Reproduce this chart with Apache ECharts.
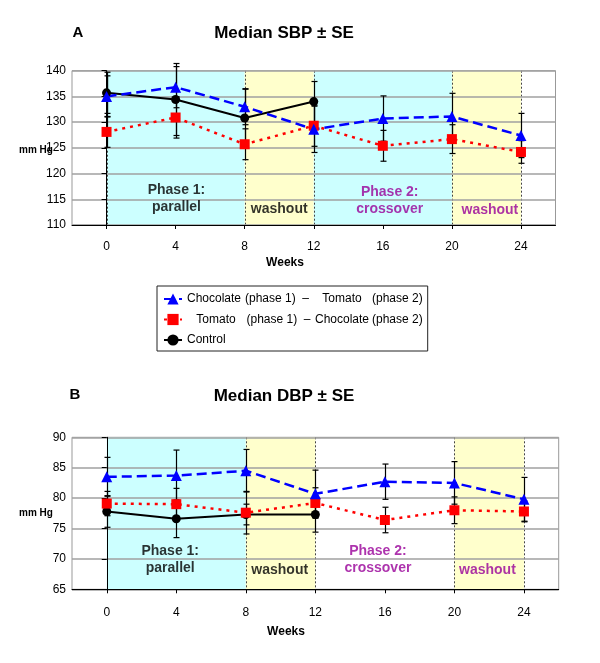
<!DOCTYPE html>
<html><head><meta charset="utf-8">
<script src="https://cdn.jsdelivr.net/npm/echarts@6/dist/echarts.min.js"></script>
<style>html,body{margin:0;padding:0;background:#fff}#c{width:600px;height:663px}</style>
</head><body><div id="c"></div>
<script>
// ---------- data ----------
const weeks = [0, 4, 8, 12, 16, 20, 24];
const controlWeeks = [0, 4, 8, 12];
const weekTicks = [0, 4, 8, 12, 16, 20, 24];
const nameChocTom = 'Chocolate (phase 1) – Tomato (phase 2)';
const nameTomChoc = 'Tomato (phase 1) – Chocolate (phase 2)';
const nameControl = 'Control';

// Panel A: SBP
const sbpChocTom   = [135.0, 136.8, 133.0, 128.6, 130.7, 131.1, 127.4];
const sbpChocTomSE = [4.0, 4.0, 3.5, 4.5, 4.4, 4.5, 4.3];
const sbpTomChoc   = [128.1, 130.9, 125.7, 129.3, 125.4, 126.7, 124.2];
const sbpTomChocSE = [3.0, 4.0, 3.0, 4.0, 3.0, 2.8, 2.2];
const sbpControl   = [135.7, 134.4, 130.8, 134.0];
const sbpControlSE = [4.0, 7.0, 5.6, 3.9];
const sbpTicks = [110, 115, 120, 125, 130, 135, 140];

// Panel B: DBP
const dbpChocTom   = [83.5, 83.7, 84.5, 80.7, 82.7, 82.5, 79.8];
const dbpChocTomSE = [3.2, 4.2, 3.5, 3.9, 2.9, 3.5, 3.6];
const dbpTomChoc   = [79.1, 79.0, 77.6, 79.2, 76.4, 78.0, 77.8];
const dbpTomChocSE = [2.0, 2.6, 3.5, 2.5, 2.1, 2.2, 1.7];
const dbpControl   = [77.8, 76.6, 77.3, 77.3];
const dbpControlSE = [2.6, 3.1, 1.7, 2.9];
const dbpTicks = [65, 70, 75, 80, 85, 90];

// study phases (week ranges) and boundaries
const sbpBands = [[0, 8, 'phase'], [8, 12, 'washout'], [12, 20, 'phase'], [20, 24, 'washout']];
const dbpBands = [[0, 8, 'phase'], [8, 12, 'washout'], [20, 24, 'washout']];
const boundaries = [0, 8, 12, 20, 24];

// phase annotations [text, week, value, group]
const sbpNotes = [['Phase 1:\nparallel', 4.05, 115.1, 1], ['washout', 10.0, 113.1, 1], ['Phase 2:\ncrossover', 16.4, 114.8, 2], ['washout', 22.2, 112.8, 2]];
const dbpNotes = [['Phase 1:\nparallel', 3.65, 69.9, 1], ['washout', 9.95, 68.2, 1], ['Phase 2:\ncrossover', 15.6, 69.8, 2], ['washout', 21.9, 68.1, 2]];

// ---------- styling ----------
const FONT = 'Liberation Sans, Arial, sans-serif';
const BLUE = '#0000FF', RED = '#FF0000', BLACK = '#000000';
const CYAN = '#CCFFFF', YELLOW = '#FFFFCC', PURPLE = '#990099';

function pairs(xs, ys) { return xs.map((x, i) => [x, ys[i]]); }
function errs(xs, ys, se) { return xs.map((x, i) => [x, ys[i] - se[i], ys[i] + se[i]]); }

function bandSeries(gi, bands) {
  return {
    type: 'custom', xAxisIndex: gi, yAxisIndex: gi, z: 1, silent: true,
    data: bands.map(b => [b[0], b[1], b[2] === 'phase' ? 0 : 1]),
    encode: { x: [0, 1] },
    renderItem: function (params, api) {
      const cs = params.coordSys;
      const x1 = api.coord([api.value(0), 0])[0];
      const x2 = api.coord([api.value(1), 0])[0];
      return { type: 'rect', shape: { x: x1, y: cs.y, width: x2 - x1, height: cs.height },
        style: { fill: api.value(2) === 0 ? CYAN : YELLOW } };
    }
  };
}
function boundarySeries(gi) {
  return {
    type: 'custom', xAxisIndex: gi, yAxisIndex: gi, z: 1.5, silent: true,
    data: boundaries.map(b => [b]),
    encode: { x: 0 },
    renderItem: function (params, api) {
      const cs = params.coordSys;
      const x = Math.round(api.coord([api.value(0), 0])[0]) + 0.5;
      return { type: 'line', shape: { x1: x, y1: cs.y, x2: x, y2: cs.y + cs.height },
        style: { stroke: '#444', lineWidth: 1, lineDash: [2, 2] } };
    }
  };
}
function errSeries(gi, data) {
  return {
    type: 'custom', xAxisIndex: gi, yAxisIndex: gi, z: 3, silent: true,
    data: data, encode: { x: 0, y: [1, 2] },
    renderItem: function (params, api) {
      const lo = api.coord([api.value(0), api.value(1)]);
      const hi = api.coord([api.value(0), api.value(2)]);
      const x = Math.round(lo[0]) + 0.5, w = 3;
      const st = { stroke: '#000', lineWidth: 1.2 };
      return { type: 'group', children: [
        { type: 'line', shape: { x1: x, y1: hi[1], x2: x, y2: lo[1] }, style: st },
        { type: 'line', shape: { x1: x - w, y1: hi[1], x2: x + w, y2: hi[1] }, style: st },
        { type: 'line', shape: { x1: x - w, y1: lo[1], x2: x + w, y2: lo[1] }, style: st }
      ] };
    }
  };
}
function lineSeries(gi, name, data, kind) {
  const s = { type: 'line', name: name, xAxisIndex: gi, yAxisIndex: gi, z: 4, data: data,
    silent: true, animation: false };
  if (kind === 0) {
    s.symbol = 'triangle'; s.symbolSize = 11; s.itemStyle = { color: BLUE };
    s.lineStyle = { color: BLUE, width: 2.5, type: [10, 5] };
  } else if (kind === 1) {
    s.symbol = 'rect'; s.symbolSize = 10; s.itemStyle = { color: RED };
    s.lineStyle = { color: RED, width: 2.5, type: [3, 5] };
  } else {
    s.symbol = 'circle'; s.symbolSize = 9; s.itemStyle = { color: BLACK };
    s.lineStyle = { color: BLACK, width: 2 };
  }
  return s;
}
function noteSeries(gi, notes) {
  return {
    type: 'scatter', xAxisIndex: gi, yAxisIndex: gi, z: 5, symbolSize: 0, silent: true,
    data: notes.map(n => ({ value: [n[1], n[2]], name: n[0],
      label: { color: n[3] === 1 ? '#000' : PURPLE } })),
    label: { show: true, position: 'inside', formatter: p => p.name,
      fontFamily: FONT, fontWeight: 'bold', fontSize: 14, lineHeight: 17, align: 'center',
      textBorderWidth: 0, textShadowBlur: 0 }
  };
}
function xAxisCfg(gi) {
  return { gridIndex: gi, type: 'value', min: -2, max: 26, z: 2,
    axisLine: { show: true, onZero: false, lineStyle: { color: '#000', width: 1 } },
    axisTick: { show: true, customValues: weekTicks, length: 4, lineStyle: { color: '#000' } },
    axisLabel: { customValues: weekTicks, margin: gi === 0 ? 16 : 17, fontSize: 12, color: '#000', fontFamily: FONT },
    splitLine: { show: false } };
}
function yAxisCfg(gi, ticks) {
  return { gridIndex: gi, type: 'value', min: ticks[0], max: ticks[ticks.length - 1], interval: 5, z: 2,
    axisLine: { show: true, lineStyle: { color: '#000', width: 1 } },
    axisTick: { show: true, length: 5, lineStyle: { color: '#000' } },
    axisLabel: { margin: 6, fontSize: 12, color: '#000', fontFamily: FONT },
    splitLine: { show: true, lineStyle: { color: '#a0a0a0', width: 1.5 } } };
}

const legendRich = {
  c1: { width: 58, align: 'left', fontSize: 12, fontFamily: FONT, color: '#000' },
  c1c: { width: 58, align: 'center', fontSize: 12, fontFamily: FONT, color: '#000' },
  c2: { width: 67, align: 'left', fontSize: 12, fontFamily: FONT, color: '#000' },
  c3: { width: 60, align: 'center', fontSize: 12, fontFamily: FONT, color: '#000' },
  c4: { align: 'left', fontSize: 12, fontFamily: FONT, color: '#000' }
};
function legendFormat(name) {
  if (name === nameChocTom) return '{c1|Chocolate}{c2|(phase 1)  –}{c3|Tomato}{c4|(phase 2)}';
  if (name === nameTomChoc) return '{c1c|Tomato}{c2|(phase 1)  –}{c3|Chocolate}{c4|(phase 2)}';
  return '{c1|' + name + '}';
}

const chart = echarts.init(document.getElementById('c'), null, { renderer: 'canvas' });
const txt = (t, x, y, size, opts) => Object.assign({ type: 'text', x: x, y: y, silent: true,
  style: { text: t, fontFamily: FONT, fontSize: size, fontWeight: 'bold', fill: '#000',
    textAlign: 'center', textVerticalAlign: 'middle' } }, opts || {});

chart.setOption({
  animation: false,
  backgroundColor: '#fff',
  grid: [
    { left: 72, top: 70.7, width: 483.5, height: 154.3, show: true, borderColor: '#999', borderWidth: 1 },
    { left: 72, top: 437.3, width: 486.7, height: 152, show: true, borderColor: '#999', borderWidth: 1 }
  ],
  xAxis: [xAxisCfg(0), xAxisCfg(1)],
  yAxis: [yAxisCfg(0, sbpTicks), yAxisCfg(1, dbpTicks)],
  legend: {
    orient: 'vertical', left: 157, top: 286, padding: [6, 5, 4, 6], itemGap: 6.5,
    itemWidth: 18, itemHeight: 14, borderColor: '#222', borderWidth: 1,
    data: [nameChocTom, nameTomChoc, nameControl], selectedMode: false,
    textStyle: { fontFamily: FONT, fontSize: 12, color: '#000', lineHeight: 14, rich: legendRich },
    formatter: legendFormat
  },
  graphic: [
    txt('A', 78, 33, 15),
    txt('Median SBP ± SE', 284, 33, 17),
    txt('mm Hg', 36, 150, 10),
    txt('Weeks', 285, 263, 12),
    txt('B', 75, 395, 15),
    txt('Median DBP ± SE', 284, 396, 17),
    txt('mm Hg', 36, 513, 10),
    txt('Weeks', 286, 632, 12)
  ],
  series: [
    bandSeries(0, sbpBands), boundarySeries(0),
    errSeries(0, errs(weeks, sbpChocTom, sbpChocTomSE)),
    errSeries(0, errs(weeks, sbpTomChoc, sbpTomChocSE)),
    errSeries(0, errs(controlWeeks, sbpControl, sbpControlSE)),
    lineSeries(0, nameControl, pairs(controlWeeks, sbpControl), 2),
    lineSeries(0, nameTomChoc, pairs(weeks, sbpTomChoc), 1),
    lineSeries(0, nameChocTom, pairs(weeks, sbpChocTom), 0),
    noteSeries(0, sbpNotes),
    bandSeries(1, dbpBands), boundarySeries(1),
    errSeries(1, errs(weeks, dbpChocTom, dbpChocTomSE)),
    errSeries(1, errs(weeks, dbpTomChoc, dbpTomChocSE)),
    errSeries(1, errs(controlWeeks, dbpControl, dbpControlSE)),
    lineSeries(1, nameControl, pairs(controlWeeks, dbpControl), 2),
    lineSeries(1, nameTomChoc, pairs(weeks, dbpTomChoc), 1),
    lineSeries(1, nameChocTom, pairs(weeks, dbpChocTom), 0),
    noteSeries(1, dbpNotes)
  ]
});
</script></body></html>
